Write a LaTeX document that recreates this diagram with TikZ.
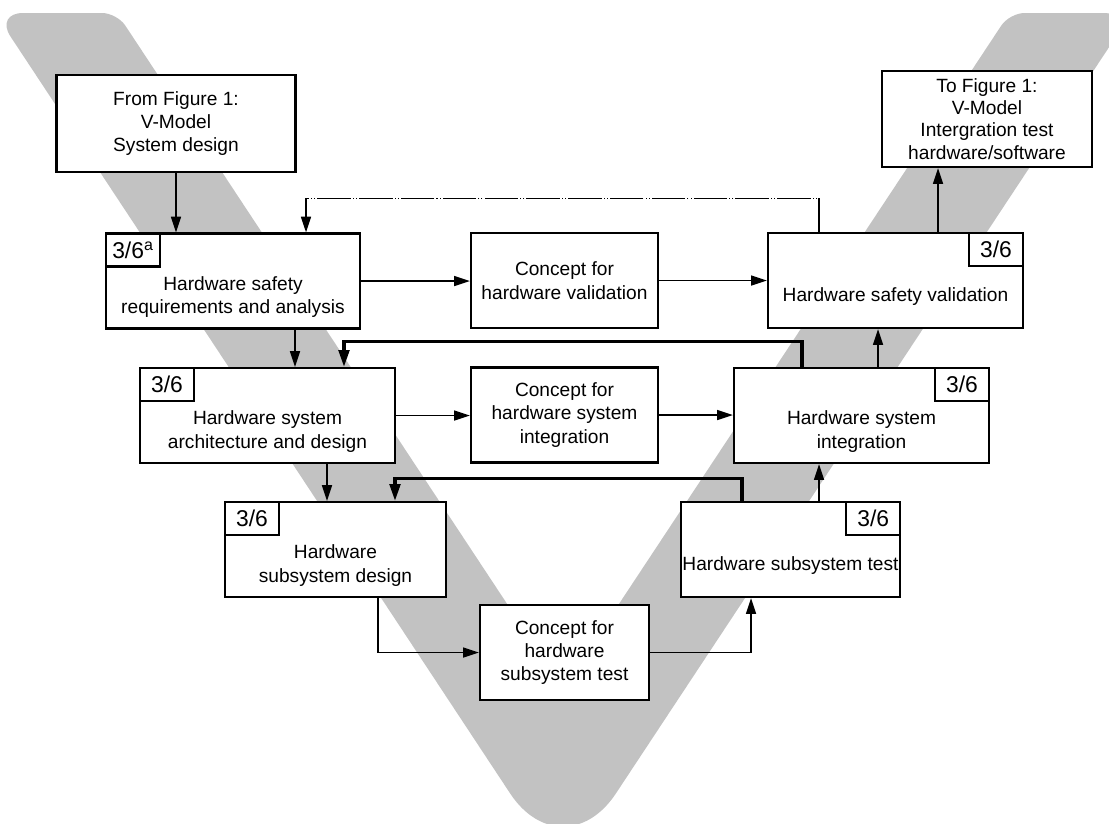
\documentclass[tikz,border=0pt]{standalone}
\usepackage{fontspec}
\setmainfont{Liberation Sans}
\usetikzlibrary{calc,arrows.meta}
\newcommand{\tagroom}{\rule{0pt}{26pt}}

\tikzset{
	stage/.style={draw, line width=1.3pt, fill=white, align=center, minimum width=5.1cm, minimum height=1.9cm, inner sep=1pt, font=\fontsize{10.9}{13.3}\selectfont},
	plainbox/.style={draw, line width=1.3pt, fill=white, align=center, minimum height=1.9cm, inner sep=1pt, font=\fontsize{10.9}{13.3}\selectfont},
	tag/.style={draw, line width=1.3pt, fill=white, minimum width=1.08cm, minimum height=0.66cm, inner sep=0pt, font=\fontsize{13}{13}\selectfont},
	tagL/.style={label={[tag,anchor=north west]north west:#1}},
	tagR/.style={label={[tag,anchor=north east]north east:#1}},
	flow/.style={line width=0.9pt, -{Triangle[length=9pt,width=5.7pt]}},
	feedback/.style={line width=1.8pt, -{Triangle[length=9.5pt,width=6pt]}},
	loopback/.style={flow, dash pattern=on 19pt off 1.2pt on 0.6pt off 1.2pt on 0.6pt off 1.2pt},
	vband/.style={fill=black!24},
}

\begin{document}
\begin{tikzpicture}[x=0.02cm, y=-0.02cm]
			%%%%% FRAME %%%%%
			\useasboundingbox (0,0) rectangle (1109,823);
			
			%%%%% V %%%%%
			\fill[vband] (56,13) [rounded corners=0.3cm] -- (117,13) [sharp corners] -- (563,688.6) [rounded corners=0.3cm] -- (1009.6,13) [rounded corners=0.56cm] -- (1131.6,13) [rounded corners=1.92cm] -- (563,873.5) [rounded corners=0.56cm] -- (-5,13) [sharp corners] -- cycle;
			
			%%%%% BOXES %%%%%
			\node[plainbox, minimum width=4.78cm, minimum height=1.94cm] (src) at (176,123.5) {From Figure 1:\\V-Model\\System design};
			\node[plainbox, minimum width=4.2cm, minimum height=1.92cm, font=\fontsize{10.9}{12.6}\selectfont] (dst) at (987,119) {To Figure 1:\\V-Model\\Intergration test\\hardware/software};
			
			\node[stage, minimum width=5.08cm, tagL={3/6\textsuperscript{a}}] (hwreq) at (233,281) {\tagroom Hardware safety\\requirements and analysis};
			\node[plainbox, minimum width=3.74cm] (cval) at (564.5,280.5) {Concept for\\hardware validation};
			\node[stage, tagR={3/6}] (hwval) at (895.5,280.5) {\tagroom Hardware safety validation};
			
			\node[stage, tagL={3/6}] (hwarch) at (267.5,415.5) {\tagroom Hardware system\\architecture and design};
			\node[plainbox, minimum width=3.74cm] (cint) at (564.5,415) {Concept for\\hardware system\\integration};
			\node[stage, tagR={3/6}] (hwint) at (861.5,415.5) {\tagroom Hardware system\\integration};
			
			\node[stage, minimum width=4.42cm, tagL={3/6}] (hwsub) at (335.5,549.5) {\tagroom Hardware\\subsystem design};
			\node[stage, minimum width=4.3cm, tagR={3/6}] (hwtest) at (790.5,549.5) {\tagroom Hardware subsystem test};
			\node[plainbox, minimum width=3.38cm] (csub) at (564.5,652.5) {Concept for\\hardware\\subsystem test};
			
			%%%%% ARROWS %%%%%
			\draw[flow] (src.south) -- (src.south |- hwreq.north);
			\draw[flow] (hwreq.east) -- (hwreq.east -| cval.west);
			\draw[flow] (cval.east) -- (cval.east -| hwval.west);
			\draw[flow] ($(hwval.north)+(42.5,0)$) -- ($(dst.south)+(-49,0)$);
			\draw[loopback] ($(hwval.north)+(-76.5,0)$) |- ($(hwreq.north)+(73,-34)$) -- ($(hwreq.north)+(73,0)$);
			
			\draw[flow] ($(hwreq.south)+(62,0)$) -- ($(hwarch.north)+(27.5,0)$);
			\draw[feedback] ($(hwint.north)+(-59.5,0)$) |- ($(hwarch.north)+(76.5,-25)$) -- ($(hwarch.north)+(76.5,0)$);
			\draw[flow] ($(hwint.north)+(16.5,0)$) -- ($(hwval.south)+(-17.5,0)$);
			\draw[flow] (hwarch.east) -- (hwarch.east -| cint.west);
			\draw[flow] (cint.east) -- (cint.east -| hwint.west);
			
			\draw[flow] ($(hwarch.south)+(59.5,0)$) -- ($(hwsub.north)+(-8.5,0)$);
			\draw[feedback] ($(hwtest.north)+(-48.5,0)$) |- ($(hwsub.north)+(59.5,-22)$) -- ($(hwsub.north)+(59.5,0)$);
			\draw[flow] ($(hwtest.north)+(28.5,0)$) -- ($(hwint.south)+(-42.5,0)$);
			\draw[flow] ($(hwsub.south)+(42.5,0)$) |- (csub.west);
			\draw[flow] (csub.east) -| ($(hwtest.south)+(-39.5,0)$);
			
			%%%%% END %%%%%
\end{tikzpicture}
\end{document}
